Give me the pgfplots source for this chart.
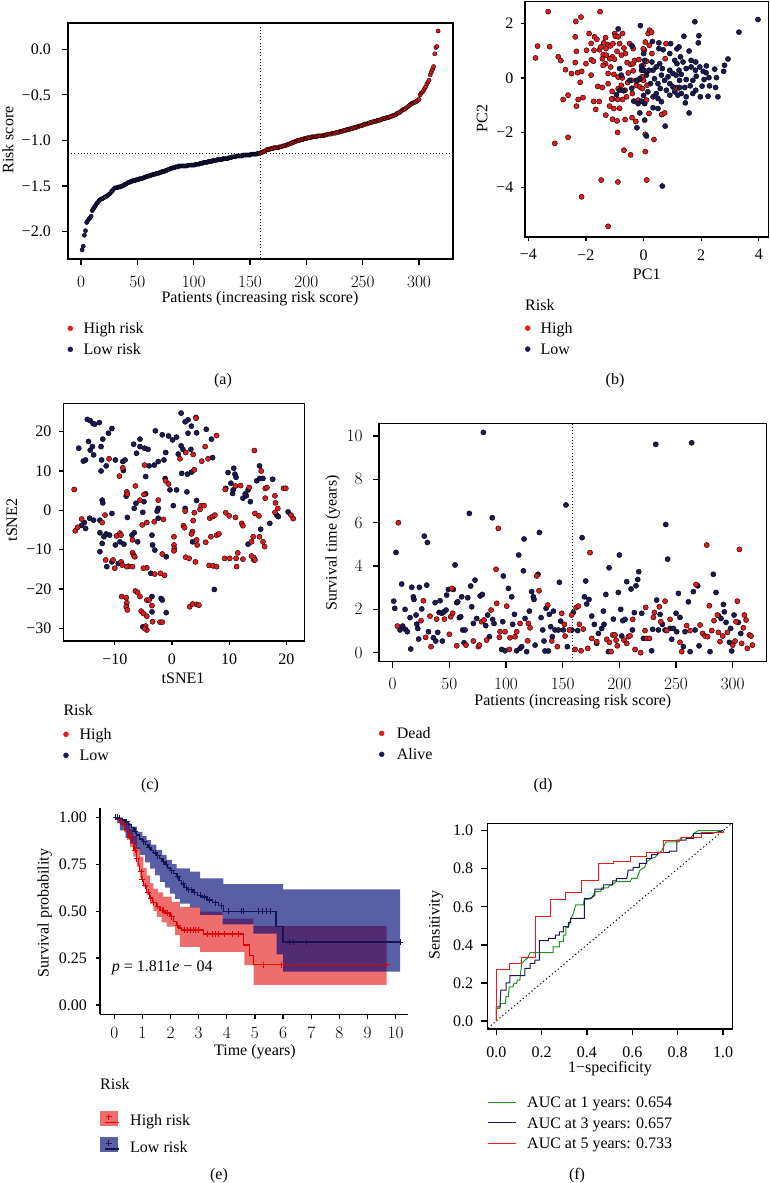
\documentclass[border=0pt]{standalone}
\usepackage{fontspec}
\setmainfont{Liberation Serif}
\usepackage{pgfplots}
\pgfplotsset{compat=1.18}
\definecolor{hr}{RGB}{228,26,28}
\definecolor{lr}{RGB}{26,26,88}
\definecolor{kmred}{RGB}{225,0,0}
\definecolor{kmblue}{RGB}{20,20,85}
\definecolor{bandred}{RGB}{227,13,13}
\definecolor{bandblue}{RGB}{0,9,117}
\definecolor{keyred}{RGB}{238,110,110}
\definecolor{keyblue}{RGB}{89,95,165}
\definecolor{rocg}{RGB}{30,150,30}
\definecolor{rocb}{RGB}{25,25,90}
\definecolor{rocr}{RGB}{240,25,25}
\newcommand{\fs}{\fontsize{16}{19}\selectfont}
\pgfplotsset{
 base/.style={scale only axis, font=\fs,
   tick label style={font=\fs},
   axis line style={line width=1.3pt, black},
   every tick/.style={black, line width=1.2pt},
   tick align=outside, major tick length=4.3pt,
   xtick pos=left, ytick pos=left,
   legend cell align=left,
   legend style={draw=none, fill=none, inner sep=0pt, outer sep=0pt, font=\fs,
     row sep=4.5pt, nodes={inner sep=1pt, text height=11pt, text depth=3.5pt}, anchor=north west},
 },
 rbase/.style={base, major tick length=6pt},
 dot/.style={only marks, mark=*, mark size=2.6pt, mark options={draw=none, fill=#1}},
}
\begin{document}
\begin{tikzpicture}[x=1pt,y=1pt]
\useasboundingbox (0pt,0pt) rectangle (770pt,-1183pt);

% ---------------- (a)
\begin{axis}[rbase, name=pa, at={(68pt,-259pt)}, anchor=south west, width=385pt, height=236pt,
  xmin=-11.54, xmax=330.2, ymin=-2.30, ymax=0.288,
  xtick={0,50,100,150,200,250,300},
  ytick={-2,-1.5,-1,-0.5,0}, yticklabels={−2.0,−1.5,−1.0,−0.5,0.0},
  xticklabel style={yshift=-8pt}, yticklabel style={xshift=-7.7pt},
  xlabel={Patients (increasing risk score)}, ylabel={Risk score},
  xlabel style={at={(axis description cs:0.4987,-0.1695)}, anchor=center},
  ylabel style={at={(axis description cs:-0.156,0.504)}, anchor=center},
  legend style={at={(axis description cs:-0.001,-0.264)}, column sep=9.5pt},
]
\addlegendimage{legend image code/.code={\fill[hr] (0pt,1.2pt) circle (2.5pt);}}
\addlegendentry{High risk}
\addlegendimage{legend image code/.code={\fill[lr] (0pt,1.2pt) circle (2.5pt);}}
\addlegendentry{Low risk}
\addplot[black, line width=0.9pt, dash pattern=on 1pt off 2.2pt, forget plot] coordinates {(159,-2.5) (159,0.5)};
\addplot[black, line width=0.9pt, dash pattern=on 1pt off 2.2pt, forget plot] coordinates {(-20,-1.145) (340,-1.145)};
\addplot[only marks, mark=*, mark size=2.1pt, mark options={draw=none, fill=lr}, forget plot] table[row sep=\\]{
x y\\ 1 -2.20\\ 2 -2.16\\ 3 -2.04\\ 4 -1.99\\ 5 -1.90\\ 6 -1.88\\ 7 -1.86\\ 8 -1.85\\ 9 -1.83\\ 10 -1.77\\
11 -1.75\\ 12 -1.73\\ 13 -1.71\\ 14 -1.69\\ 15 -1.68\\ 16 -1.66\\ 17 -1.65\\ 18 -1.64\\ 19 -1.64\\ 20 -1.63\\
21 -1.62\\ 22 -1.62\\ 23 -1.61\\ 24 -1.60\\ 25 -1.59\\ 26 -1.58\\ 27 -1.56\\ 28 -1.55\\ 29 -1.53\\ 30 -1.52\\
31 -1.52\\ 32 -1.52\\ 33 -1.51\\ 34 -1.51\\ 35 -1.51\\ 36 -1.50\\ 37 -1.50\\ 38 -1.49\\ 39 -1.48\\ 40 -1.48\\
41 -1.47\\ 42 -1.46\\ 43 -1.46\\ 44 -1.45\\ 45 -1.45\\ 46 -1.44\\ 47 -1.44\\ 48 -1.44\\ 49 -1.43\\ 50 -1.43\\
51 -1.43\\ 52 -1.42\\ 53 -1.42\\ 54 -1.42\\ 55 -1.41\\ 56 -1.41\\ 57 -1.40\\ 58 -1.40\\ 59 -1.39\\ 60 -1.39\\
61 -1.39\\ 62 -1.38\\ 63 -1.38\\ 64 -1.37\\ 65 -1.37\\ 66 -1.37\\ 67 -1.36\\ 68 -1.36\\ 69 -1.36\\ 70 -1.35\\
71 -1.35\\ 72 -1.34\\ 73 -1.34\\ 74 -1.34\\ 75 -1.33\\ 76 -1.33\\ 77 -1.32\\ 78 -1.32\\ 79 -1.31\\ 80 -1.31\\
81 -1.30\\ 82 -1.30\\ 83 -1.30\\ 84 -1.29\\ 85 -1.29\\ 86 -1.29\\ 87 -1.28\\ 88 -1.28\\ 89 -1.28\\ 90 -1.28\\
91 -1.28\\ 92 -1.28\\ 93 -1.28\\ 94 -1.28\\ 95 -1.27\\ 96 -1.27\\ 97 -1.27\\ 98 -1.27\\ 99 -1.27\\ 100 -1.27\\
101 -1.27\\ 102 -1.26\\ 103 -1.26\\ 104 -1.26\\ 105 -1.26\\ 106 -1.25\\ 107 -1.25\\ 108 -1.25\\ 109 -1.24\\ 110 -1.24\\
111 -1.24\\ 112 -1.24\\ 113 -1.23\\ 114 -1.23\\ 115 -1.23\\ 116 -1.23\\ 117 -1.22\\ 118 -1.22\\ 119 -1.22\\ 120 -1.22\\
121 -1.21\\ 122 -1.21\\ 123 -1.21\\ 124 -1.21\\ 125 -1.21\\ 126 -1.20\\ 127 -1.20\\ 128 -1.20\\ 129 -1.20\\ 130 -1.20\\
131 -1.19\\ 132 -1.19\\ 133 -1.19\\ 134 -1.18\\ 135 -1.18\\ 136 -1.18\\ 137 -1.18\\ 138 -1.17\\ 139 -1.17\\ 140 -1.17\\
141 -1.17\\ 142 -1.17\\ 143 -1.17\\ 144 -1.16\\ 145 -1.16\\ 146 -1.16\\ 147 -1.16\\ 148 -1.16\\ 149 -1.16\\ 150 -1.16\\
151 -1.15\\ 152 -1.15\\ 153 -1.15\\ 154 -1.15\\ 155 -1.15\\ 156 -1.15\\ 157 -1.14\\ 158 -1.14\\
};
\addplot[only marks, mark=*, mark size=2.1pt, mark options={draw=none, fill=hr}, forget plot] table[row sep=\\]{
x y\\ 159 -1.14\\ 160 -1.13\\ 161 -1.13\\ 162 -1.12\\ 163 -1.12\\ 164 -1.11\\ 165 -1.10\\ 166 -1.10\\ 167 -1.10\\ 168 -1.09\\
169 -1.09\\ 170 -1.09\\ 171 -1.08\\ 172 -1.08\\ 173 -1.08\\ 174 -1.08\\ 175 -1.08\\ 176 -1.07\\ 177 -1.07\\ 178 -1.07\\
179 -1.06\\ 180 -1.06\\ 181 -1.06\\ 182 -1.05\\ 183 -1.05\\ 184 -1.04\\ 185 -1.04\\ 186 -1.03\\ 187 -1.03\\ 188 -1.02\\
189 -1.02\\ 190 -1.01\\ 191 -1.01\\ 192 -1.00\\ 193 -1.00\\ 194 -1.00\\ 195 -0.99\\ 196 -0.99\\ 197 -0.99\\ 198 -0.98\\
199 -0.98\\ 200 -0.98\\ 201 -0.97\\ 202 -0.97\\ 203 -0.97\\ 204 -0.97\\ 205 -0.96\\ 206 -0.96\\ 207 -0.96\\ 208 -0.96\\
209 -0.96\\ 210 -0.95\\ 211 -0.95\\ 212 -0.95\\ 213 -0.95\\ 214 -0.95\\ 215 -0.95\\ 216 -0.94\\ 217 -0.94\\ 218 -0.94\\
219 -0.93\\ 220 -0.93\\ 221 -0.93\\ 222 -0.93\\ 223 -0.92\\ 224 -0.92\\ 225 -0.92\\ 226 -0.92\\ 227 -0.91\\ 228 -0.91\\
229 -0.91\\ 230 -0.90\\ 231 -0.90\\ 232 -0.90\\ 233 -0.89\\ 234 -0.89\\ 235 -0.89\\ 236 -0.88\\ 237 -0.88\\ 238 -0.88\\
239 -0.87\\ 240 -0.87\\ 241 -0.87\\ 242 -0.86\\ 243 -0.86\\ 244 -0.86\\ 245 -0.85\\ 246 -0.85\\ 247 -0.84\\ 248 -0.84\\
249 -0.84\\ 250 -0.83\\ 251 -0.83\\ 252 -0.82\\ 253 -0.82\\ 254 -0.82\\ 255 -0.81\\ 256 -0.81\\ 257 -0.80\\ 258 -0.80\\
259 -0.80\\ 260 -0.79\\ 261 -0.79\\ 262 -0.79\\ 263 -0.78\\ 264 -0.78\\ 265 -0.78\\ 266 -0.77\\ 267 -0.77\\ 268 -0.76\\
269 -0.76\\ 270 -0.76\\ 271 -0.75\\ 272 -0.75\\ 273 -0.75\\ 274 -0.74\\ 275 -0.74\\ 276 -0.73\\ 277 -0.73\\ 278 -0.72\\
279 -0.72\\ 280 -0.71\\ 281 -0.70\\ 282 -0.70\\ 283 -0.69\\ 284 -0.68\\ 285 -0.67\\ 286 -0.66\\ 287 -0.66\\ 288 -0.65\\
289 -0.64\\ 290 -0.63\\ 291 -0.62\\ 292 -0.61\\ 293 -0.60\\ 294 -0.59\\ 295 -0.59\\ 296 -0.58\\ 297 -0.58\\ 298 -0.57\\
299 -0.56\\ 300 -0.55\\ 301 -0.50\\ 302 -0.48\\ 303 -0.47\\ 304 -0.45\\ 305 -0.43\\ 306 -0.41\\ 307 -0.38\\ 308 -0.36\\
309 -0.34\\ 310 -0.28\\ 311 -0.25\\ 312 -0.22\\ 313 -0.19\\ 314 -0.05\\ 315 0.02\\ 316 0.03\\ 317 0.20\\
};
\end{axis}
\draw[line width=1.3pt, black] (pa.south west) rectangle (pa.north east);
\node[font=\fs] at (223pt,-381pt) {(a)};

% ---------------- (b)
\begin{axis}[base, name=pb, at={(525pt,-237pt)}, anchor=south west, width=243.5pt, height=235.5pt,
  xmin=-4.114, xmax=4.336, ymin=-5.81, ymax=2.79,
  xtick={-4,-2,0,2,4}, xticklabels={−4,−2,0,2,4},
  ytick={-4,-2,0,2}, yticklabels={−4,−2,0,2},
  xticklabel style={yshift=-4.6pt}, yticklabel style={xshift=-3.7pt},
  xlabel={PC1}, ylabel={PC2},
  xlabel style={at={(axis description cs:0.5,-0.157)}, anchor=center},
  ylabel style={at={(axis description cs:-0.176,0.504)}, anchor=center},
  legend style={at={(axis description cs:0,-0.357)}, column sep=9.2pt},
]
\addlegendimage{legend image code/.code={\fill[hr] (0pt,1.2pt) circle (2.5pt);}}
\addlegendentry{High}
\addlegendimage{legend image code/.code={\fill[lr] (0pt,1.2pt) circle (2.5pt);}}
\addlegendentry{Low}
\addplot[dot=hr, forget plot] table[row sep=\\]{
x y\\ -3.31 2.42\\ -1.51 2.42\\ -2.35 2.06\\ -2.17 2.22\\ -3.68 1.16\\ -3.75 0.73\\ -3.26 1.14\\ -2.96 0.77\\ -2.87 0.63\\ -2.71 0.30\\
-2.50 0.16\\ -2.37 1.50\\ -2.33 0.97\\ -2.37 0.56\\ -2.29 0.19\\ -2.15 0.24\\ -2.20 -0.16\\ -2.0 0.52\\ -1.89 1.62\\ -1.82 1.26\\
-1.72 1.01\\ -1.81 0.66\\ -1.74 0.61\\ -1.70 1.50\\ -1.53 1.03\\ -1.40 0.85\\ -1.32 1.47\\ -1.30 1.07\\ -1.25 1.22\\ -1.15 1.17\\
-1.06 1.25\\ -1.0 1.62\\ -0.98 1.52\\ -0.92 0.97\\ -0.77 0.83\\ -0.73 1.62\\ -0.83 1.25\\ -1.08 0.77\\ -1.01 0.68\\ -1.32 0.52\\
-1.40 0.46\\ -1.23 0.16\\ -1.03 0.13\\ -0.88 0.03\\ -0.74 0.0\\ -0.53 0.18\\ -0.45 0.49\\ -0.36 0.52\\ -0.36 0.26\\ -0.31 0.64\\
-0.48 1.25\\ -0.36 1.07\\ -0.16 0.67\\ -0.02 0.46\\ 0.03 1.01\\ -0.01 1.06\\ 0.10 0.61\\ 0.16 1.62\\ 0.21 1.74\\ 0.06 1.31\\
0.20 1.19\\ 0.29 0.89\\ 0.78 1.25\\ 0.75 0.70\\ -1.23 -0.21\\ -1.43 -0.35\\ -1.09 -0.49\\ -1.08 -0.77\\ -0.88 -0.39\\ -0.77 -0.27\\
-0.64 -0.45\\ -0.59 -0.69\\ -0.25 -0.27\\ -0.13 -0.33\\ -0.04 -0.39\\ 0.12 -0.27\\ 0.0 -0.09\\ 0.10 -0.81\\ -0.19 -0.81\\ -0.39 -0.57\\
-0.73 -0.79\\ -0.90 -0.79\\ -1.11 -0.77\\ -1.73 -0.86\\ -1.54 -0.86\\ -2.79 -0.79\\ -2.62 -0.63\\ -2.27 -0.79\\ -2.10 -0.72\\ -2.33 -1.03\\
-1.66 -1.15\\ -1.31 -1.36\\ -1.18 -1.03\\ -1.03 -1.12\\ -0.83 -1.11\\ -1.08 -1.51\\ -0.92 -1.57\\ -0.64 -1.52\\ -0.40 -1.45\\ -0.27 -1.59\\
0.19 -1.30\\ 0.63 -1.34\\ 0.73 -1.28\\ -3.08 -2.39\\ -2.62 -2.17\\ -0.90 -1.99\\ 0.06 -2.06\\ 0.36 -2.25\\ -0.68 -2.64\\ -0.45 -2.81\\
0.06 -2.69\\ -1.47 -3.73\\ -0.89 -3.80\\ 0.11 -3.73\\ -2.15 -4.34\\ -1.23 -5.42\\ 1.13 -0.35\\ 1.17 -0.39\\ -0.13 -0.05\\ -0.22 -0.11\\
-0.42 -0.09\\ -0.55 -0.17\\ -1.59 -0.31\\ -0.05 0.04\\ 0.13 0.24\\ -0.57 0.56\\ -0.68 1.09\\ -0.63 0.89\\ 0.28 1.67\\ -1.48 1.13\\
-1.62 1.41\\ -1.38 1.28\\ -0.88 1.50\\ -1.29 0.83\\ -1.14 0.40\\ -1.17 0.70\\ -1.43 0.70\\ -1.82 0.10\\ -1.98 1.01\\
};
\addplot[dot=lr, forget plot] table[row sep=\\]{
x y\\ -0.88 1.79\\ -0.11 1.91\\ 0.31 1.33\\ 0.53 1.28\\ 0.94 1.25\\ 1.16 1.06\\ 1.40 1.52\\ 1.78 2.05\\ 1.92 1.54\\ 1.90 1.28\\
1.23 1.13\\ 1.58 0.98\\ 3.31 1.67\\ 3.97 2.13\\ 2.93 0.69\\ 2.81 0.46\\ 2.78 0.24\\ 2.47 0.32\\ 2.17 0.19\\ 2.07 0.24\\
2.18 0.44\\ 2.27 0.01\\ 2.10 -0.06\\ 2.03 -0.30\\ 2.29 -0.29\\ 2.50 -0.35\\ 2.58 -0.69\\ 2.24 -0.67\\ 1.97 -0.69\\ 1.81 -0.45\\
1.62 -0.29\\ 1.48 -0.06\\ 1.65 0.40\\ 1.81 0.58\\ 1.80 0.28\\ 1.65 0.64\\ 1.37 0.58\\ 1.16 0.52\\ 1.08 0.64\\ 0.91 0.28\\
1.02 0.16\\ 1.23 0.28\\ 1.31 0.13\\ 1.25 -0.09\\ 1.43 -0.35\\ 1.31 -0.57\\ 1.48 -0.69\\ 1.45 -0.91\\ 1.08 -0.51\\ 0.91 -0.63\\
0.79 -0.45\\ 0.91 -0.21\\ 0.73 -0.09\\ 0.62 0.10\\ 0.56 0.52\\ 0.44 0.40\\ 0.33 0.28\\ 0.19 0.28\\ -0.07 0.43\\ -0.07 0.28\\
-0.13 -0.03\\ 0.38 -0.03\\ 0.50 -0.21\\ 0.58 -0.39\\ 0.44 -0.57\\ 0.33 -0.69\\ 0.50 -0.75\\ 0.62 -0.87\\ 0.50 -1.12\\ 0.33 -1.09\\
0.04 -0.94\\ -0.07 -0.85\\ -0.19 -0.94\\ -0.34 -0.85\\ -0.13 -1.28\\ 0.04 -1.54\\ -0.23 -1.82\\ 0.10 -2.12\\ 0.75 -1.76\\ 1.58 -1.28\\
0.65 -3.95\\ -0.69 -0.47\\ -0.83 -0.45\\ -0.94 -0.61\\ -0.41 -0.38\\ -0.48 -0.09\\ -0.25 -0.09\\ -0.77 0.10\\ -0.83 0.34\\ -0.40 1.17\\
0.0 0.89\\ 0.0 0.28\\ 0.10 0.10\\ 0.24 -0.21\\ 0.91 0.89\\ 0.68 1.03\\ 0.53 1.07\\ 1.13 0.10\\ 1.02 -0.33\\ 1.19 -0.63\\
1.71 -0.57\\ 1.83 0.06\\ 1.95 0.40\\ 2.53 0.01\\ 1.28 0.77\\ 1.48 0.34\\ 1.71 -0.09\\ 0.0 -0.64\\ 0.15 -0.51\\ 0.85 0.04\\
0.65 0.34\\ 0.29 0.58\\ 0.04 0.64\\ 1.25 -0.35\\
};
\end{axis}
\draw[line width=1.3pt, black] (pb.south west) rectangle (pb.north east);
\node[font=\fs, anchor=west, inner sep=0pt] at (525pt,-305.5pt) {Risk};
\node[font=\fs] at (615pt,-381pt) {(b)};

% ---------------- (c)
\begin{axis}[base, at={(63.3pt,-641pt)}, anchor=south west, width=241pt, height=237.7pt,
  xmin=-19.0, xmax=23.13, ymin=-33.2, ymax=27.2,
  xtick={-10,0,10,20}, xticklabels={−10,0,10,20},
  ytick={-30,-20,-10,0,10,20}, yticklabels={−30,−20,−10,0,10,20},
  xticklabel style={yshift=-5pt}, yticklabel style={xshift=-4pt},
  xlabel={tSNE1}, ylabel={tSNE2},
  xlabel style={at={(axis description cs:0.497,-0.156)}, anchor=center},
  ylabel style={at={(axis description cs:-0.213,0.509)}, anchor=center},
  legend style={at={(axis description cs:0,-0.363)}, column sep=9.8pt},
]
\addlegendimage{legend image code/.code={\fill[hr] (0pt,1.2pt) circle (2.5pt);}}
\addlegendentry{High}
\addlegendimage{legend image code/.code={\fill[lr] (0pt,1.2pt) circle (2.5pt);}}
\addlegendentry{Low}
\addplot[dot=lr, forget plot] table[row sep=\\]{
x y\\ -16.3 15.8\\ -15.5 12.5\\ -15.1 12.8\\ -14.8 23.1\\ -14.3 22.8\\ -13.8 22.1\\ -13.5 21.9\\ -12.7 22.3\\ -14.6 17.5\\ -14.3 15.3\\
-13.9 16.2\\ -13.7 14.1\\ -12.4 16.2\\ -12.1 18.1\\ -12.3 12.8\\ -12.4 10.0\\ -11.5 11.3\\ -11.1 19.6\\ -10.5 20.8\\ -9.9 12.8\\
-8.6 12.4\\ -8.2 12.8\\ -8.5 10.1\\ -6.7 16.8\\ -6.2 14.5\\ -5.6 18.1\\ -5.6 16.2\\ -4.8 15.8\\ -4.2 15.5\\ -4.6 8.6\\
-4.0 11.3\\ -3.1 11.5\\ -2.9 20.2\\ -2.4 12.4\\ -1.7 19.2\\ -1.4 12.8\\ -1.1 14.7\\ -0.6 18.9\\ 0.1 17.9\\ 0.8 18.6\\
1.6 24.7\\ 2.3 22.5\\ 2.8 23.0\\ 3.4 21.4\\ 4.2 23.6\\ 4.3 19.7\\ 2.8 19.6\\ 1.6 16.4\\ 1.9 15.5\\ 3.3 15.5\\
1.1 14.3\\ 1.7 9.4\\ 2.7 9.2\\ 3.4 9.7\\ -0.35 5.2\\ 0.8 5.2\\ 2.6 4.7\\ 6.0 20.6\\ 6.9 18.1\\ 7.1 13.4\\
-1.2 8.1\\ 0.23 1.2\\ 2.3 0.5\\ 4.3 2.5\\ -12.2 2.6\\ -12.1 1.9\\ -14.4 -2.0\\ -13.7 -2.5\\ -15.3 -3.1\\ -15.1 -4.6\\
-15.8 -3.8\\ -12.6 -2.5\\ -10.5 -0.8\\ -12.6 -5.7\\ -11.5 -6.0\\ -10.9 -6.3\\ -11.9 -6.7\\ -12.2 -8.4\\ -12.6 -10.5\\ -9.9 -8.8\\
-9.1 -8.0\\ -8.4 -8.6\\ -10.5 -13.1\\ -9.4 -13.5\\ -11.4 -14.3\\ -8.0 3.6\\ -7.8 -1.8\\ -7.0 -6.3\\ -6.6 -5.7\\ -6.0 -8.0\\
-6.6 0.5\\ -6.3 1.8\\ -4.9 2.2\\ -4.6 4.2\\ -5.1 -0.5\\ -3.5 -6.3\\ -3.4 -8.8\\ -3.0 -10.1\\ -3.7 -16.0\\ -2.4 -2.0\\
-2.4 0.5\\ -2.6 -0.2\\ -1.0 -11.8\\ 3.6 -8.0\\ -3.5 -21.9\\ -1.9 -22.4\\ -1.7 -22.8\\ -1.0 -26.0\\ -3.5 -25.8\\ -5.1 -29.6\\
7.4 -20.1\\ 9.8 9.6\\ 10.3 6.9\\ 10.8 10.7\\ 11.0 9.2\\ 11.2 8.4\\ 10.6 4.3\\ 10.7 5.2\\ 9.4 5.6\\ 12.4 3.1\\
13.0 3.7\\ 13.3 5.2\\ 13.7 2.2\\ 12.8 4.2\\ 14.8 7.5\\ 15.3 8.1\\ 15.9 8.1\\ 15.3 11.3\\ 17.6 7.9\\ 15.5 -4.8\\
17.1 -3.3\\ 13.3 -8.6\\ 18.3 -1.2\\ 18.6 -1.6\\ 20.3 -0.4\\
};
\addplot[dot=hr, forget plot] table[row sep=\\]{
x y\\ -17.1 5.3\\ -16.9 -5.2\\ -16.5 -4.3\\ -15.8 -2.2\\ -11.7 -1.2\\ -12.2 -3.1\\ -11.0 13.1\\ -9.2 8.7\\ -8.6 10.8\\ -7.9 4.7\\
-7.8 4.1\\ -6.4 6.2\\ -5.6 2.6\\ -4.8 11.5\\ -4.9 4.0\\ -5.2 -3.7\\ -4.4 -3.1\\ -3.1 -2.9\\ -2.4 2.6\\ -1.5 -2.3\\
-1.1 7.5\\ -0.6 6.7\\ -9.7 -6.5\\ -9.1 -5.8\\ -8.9 -6.3\\ -6.9 -7.5\\ -6.9 -10.8\\ -6.7 -11.4\\ -6.5 -11.8\\ -11.6 -12.6\\
-10.3 -12.6\\ -10.0 -14.7\\ -8.9 -13.1\\ -8.7 -13.9\\ -7.6 -14.2\\ -6.9 -14.3\\ -4.4 -14.6\\ -3.0 -16.2\\ -2.0 -16.0\\ -1.3 -16.5\\
-1.7 -11.1\\ 0.35 -6.7\\ 0.35 -8.8\\ 0.4 -9.7\\ 0.35 -10.3\\ 2.0 -3.9\\ 2.2 -4.4\\ 2.3 -0.2\\ 2.4 -11.9\\ 3.0 -12.2\\
4.1 -13.1\\ 3.6 -5.4\\ 3.4 -6.0\\ 3.7 -2.6\\ 3.9 -0.6\\ 4.3 -7.5\\ 4.4 -8.8\\ 4.9 0.25\\ 5.1 1.2\\ 5.6 1.2\\
5.9 -8.1\\ 6.6 -2.0\\ 6.8 -6.7\\ 7.1 -1.6\\ 7.5 -1.2\\ 7.8 -6.3\\ 8.2 -6.0\\ 6.5 -14.0\\ 7.2 -14.1\\ 7.8 -14.3\\
9.2 -12.2\\ 10.1 -12.2\\ 11.2 -12.2\\ 11.5 -10.8\\ 11.3 -14.3\\ 12.4 -12.4\\ 12.2 -3.3\\ 12.4 -3.9\\ 9.4 -0.6\\ 10.0 -1.4\\
11.1 -1.8\\ 9.3 5.3\\ 11.1 6.2\\ 12.0 6.3\\ 13.5 5.8\\ 14.5 -0.8\\ 15.2 -1.4\\ 14.4 15.2\\ 15.6 10.0\\ 16.3 5.6\\
16.6 5.8\\ 16.3 3.1\\ 18.0 3.7\\ 18.1 1.9\\ 18.5 0.5\\ 18.0 -0.5\\ 19.5 5.6\\ 19.9 5.6\\ 20.8 -1.2\\ 21.2 -2.1\\
13.9 -8.0\\ 14.2 -6.7\\ 15.3 -6.7\\ 15.9 -8.0\\ 16.2 -9.2\\ 14.3 -12.0\\ 14.3 -12.6\\ 14.5 -12.6\\ 13.9 -11.6\\ 7.8 19.0\\
5.8 16.2\\ 5.2 12.5\\ 6.3 13.1\\ 3.7 14.2\\ 1.4 13.1\\ 2.4 14.7\\ 3.9 10.3\\ 4.2 23.4\\ -8.8 -21.9\\ -8.0 -22.2\\
-7.9 -23.5\\ -8.0 -24.5\\ -7.8 -25.3\\ -6.4 -20.5\\ -6.0 -20.9\\ -5.6 -21.9\\ -5.4 -25.6\\ -5.0 -26.2\\ -4.4 -22.8\\ -4.0 -22.8\\
-3.5 -24.2\\ -4.4 -26.9\\ -3.4 -28.3\\ -2.1 -28.4\\ -1.7 -28.4\\ -4.6 -29.4\\ -4.4 -30.4\\ -4.8 -30.0\\ 3.1 -24.5\\ 3.6 -23.8\\
4.3 -23.9\\ 4.7 -24.1\\ -7.9 -14.3\\ -5.0 -14.7\\
};
\end{axis}
\node[font=\fs, anchor=west, inner sep=0pt] at (63.3pt,-710.5pt) {Risk};
\node[font=\fs] at (150pt,-786pt) {(c)};

% ---------------- (d)
\begin{axis}[rbase, at={(379pt,-661.7pt)}, anchor=south west, width=387.7pt, height=238.4pt,
  xmin=-12.09, xmax=330.0, ymin=-0.415, ymax=10.59,
  xtick={0,50,100,150,200,250,300}, ytick={0,2,4,6,8,10},
  xticklabel style={yshift=-7.6pt}, yticklabel style={xshift=-7pt},
  xlabel={Patients (increasing risk score)}, ylabel={Survival time (years)},
  xlabel style={at={(axis description cs:0.5,-0.169)}, anchor=center},
  ylabel style={at={(axis description cs:-0.119,0.498)}, anchor=center},
  legend style={at={(axis description cs:0,-0.271)}, column sep=11.5pt},
]
\addlegendimage{legend image code/.code={\fill[hr] (0pt,1.2pt) circle (2.5pt);}}
\addlegendentry{Dead}
\addlegendimage{legend image code/.code={\fill[lr] (0pt,1.2pt) circle (2.5pt);}}
\addlegendentry{Alive}
\addplot[black, line width=0.9pt, dash pattern=on 1pt off 2.2pt, forget plot] coordinates {(159,-1) (159,11)};
\addplot[dot=lr, forget plot] table[row sep=\\]{
x y\\ 0.9 2.38\\ 1.8 2.05\\ 2.9 4.63\\ 7.9 3.17\\ 6.5 1.05\\ 10.9 2.0\\ 8.8 1.23\\ 11.2 1.08\\ 12.9 0.97\\ 15.3 1.62\\
15.9 0.17\\ 16.8 3.02\\ 18.2 2.58\\ 18.8 2.46\\ 20.6 1.74\\ 21.2 1.32\\ 22.1 1.12\\ 22.9 0.63\\ 23.5 3.02\\ 25.6 2.02\\
27.9 5.38\\ 30.0 3.12\\ 30.6 5.09\\ 31.5 0.97\\ 35.9 0.69\\ 37.4 2.31\\ 38.0 0.54\\ 39.7 0.94\\ 40.9 1.86\\ 41.8 2.40\\
43.2 1.82\\ 43.8 0.54\\ 45.3 1.89\\ 47.1 1.97\\ 47.6 2.66\\ 49.1 2.92\\ 53.5 2.92\\ 55.0 4.05\\ 56.5 2.31\\ 57.4 2.35\\
58.8 1.62\\ 60.0 1.66\\ 60.9 2.58\\ 61.8 1.05\\ 63.8 1.05\\ 62.9 0.46\\ 66.2 2.54\\ 67.6 6.43\\ 68.8 3.08\\ 69.7 2.12\\
71.2 1.35\\ 72.6 3.35\\ 74.1 1.58\\ 77.1 2.62\\ 79.1 2.69\\ 80.0 10.17\\ 82.1 1.25\\ 83.8 1.74\\ 85.3 0.74\\ 87.9 6.23\\
88.2 1.54\\ 89.4 1.35\\ 97.6 3.54\\ 97.1 1.43\\ 96.2 0.15\\ 99.1 0.09\\ 102.1 2.97\\ 105.0 2.58\\ 105.9 1.31\\ 107.4 1.77\\
109.4 0.09\\ 111.2 4.51\\ 112.4 0.2\\ 113.8 0.28\\ 115.3 3.78\\ 115.9 5.25\\ 116.8 1.58\\ 118.2 0.05\\ 120.6 1.92\\ 122.6 2.82\\
124.1 2.58\\ 124.7 2.46\\ 125.6 0.35\\ 128.2 3.62\\ 129.4 5.55\\ 130.9 1.62\\ 132.4 1.05\\ 133.5 0.54\\ 134.4 0.08\\ 137.4 0.08\\
135.3 2.05\\ 138.2 1.77\\ 139.4 1.2\\ 140.9 0.74\\ 141.8 1.92\\ 143.2 1.05\\ 146.2 1.05\\ 147.1 3.25\\ 148.2 1.46\\ 150.6 1.05\\
152.9 6.82\\ 154.1 0.28\\ 158.2 1.05\\ 159.4 1.86\\ 163.2 1.02\\ 167.1 5.31\\ 169.1 2.58\\ 170.3 3.31\\ 171.2 2.25\\ 173.2 2.46\\
175.6 1.69\\ 177.9 1.31\\ 180.0 0.43\\ 181.5 0.89\\ 184.4 1.12\\ 185.9 1.92\\ 186.5 1.31\\ 188.0 2.69\\ 190.9 3.92\\ 190.3 0.05\\
194.7 1.55\\ 199.1 2.78\\ 200.0 4.51\\ 201.2 2.0\\ 202.1 0.77\\ 203.0 1.48\\ 205.0 1.54\\ 206.5 3.28\\ 210.3 2.94\\ 211.5 1.05\\
213.2 1.85\\ 214.7 3.09\\ 216.2 3.38\\ 217.1 3.74\\ 219.7 1.82\\ 221.2 0.66\\ 228.5 0.09\\ 229.4 1.08\\ 232.1 9.62\\ 232.9 2.43\\
234.4 1.05\\ 235.9 1.77\\ 237.9 1.31\\ 240.3 1.05\\ 240.9 5.92\\ 242.6 4.32\\ 244.7 1.12\\ 246.2 0.62\\ 247.6 1.12\\ 250.0 1.82\\
250.6 0.97\\ 252.1 2.74\\ 253.5 1.63\\ 256.5 0.28\\ 257.9 0.97\\ 260.9 2.35\\ 262.4 0.05\\ 263.8 9.69\\ 265.3 2.82\\ 266.8 1.05\\
269.1 3.09\\ 270.3 0.32\\ 280.0 0.05\\ 282.9 3.62\\ 285.3 2.78\\ 287.4 1.71\\ 289.7 1.58\\ 291.8 2.23\\ 292.6 1.89\\ 294.1 1.40\\
297.1 0.48\\ 298.2 1.12\\ 299.1 0.08\\ 301.2 1.74\\ 305.0 1.4\\ 307.1 0.89\\
};
\addplot[dot=hr, forget plot] table[row sep=\\]{
x y\\ 4.1 1.23\\ 5.0 6.0\\ 25.0 1.48\\ 27.1 2.4\\ 29.1 0.71\\ 32.9 1.69\\ 33.8 0.28\\ 38.8 1.55\\ 45.6 1.55\\ 50.0 0.85\\
51.2 1.66\\ 52.1 2.97\\ 52.9 1.82\\ 56.5 0.32\\ 64.7 0.35\\ 71.2 0.54\\ 75.6 0.28\\ 76.5 0.35\\ 78.5 1.43\\ 80.6 1.51\\
82.9 0.58\\ 86.8 1.97\\ 91.2 3.85\\ 91.8 2.28\\ 93.2 5.74\\ 94.1 0.71\\ 94.7 0.97\\ 99.1 0.97\\ 100.6 2.15\\ 102.9 0.15\\
103.5 0.69\\ 107.9 0.74\\ 109.4 0.97\\ 112.4 1.35\\ 119.1 0.55\\ 119.7 1.35\\ 121.2 1.15\\ 127.1 3.54\\ 129.1 2.86\\ 136.8 2.2\\
140.3 0.54\\ 145.3 0.28\\ 149.1 1.82\\ 151.5 1.31\\ 152.1 0.77\\ 155.9 1.05\\ 157.9 1.74\\ 160.9 0.15\\ 161.8 2.08\\ 163.8 2.15\\
164.7 1.31\\ 166.2 0.09\\ 168.2 1.09\\ 172.1 0.2\\ 174.1 4.62\\ 175.6 0.66\\ 180.0 0.51\\ 188.8 0.62\\ 191.2 0.48\\ 192.6 0.05\\
194.1 0.82\\ 196.2 0.82\\ 197.1 0.58\\ 198.2 0.32\\ 204.1 0.58\\ 206.5 0.43\\ 207.9 0.74\\ 209.4 0.78\\ 211.8 1.54\\ 213.8 0.15\\
218.8 0.0\\ 222.6 1.02\\ 223.2 2.09\\ 224.1 0.66\\ 226.5 0.66\\ 230.0 1.63\\ 230.9 1.86\\ 235.3 2.12\\ 236.5 1.43\\ 240.3 2.38\\
241.8 1.02\\ 244.7 1.54\\ 253.5 0.48\\ 255.0 0.05\\ 259.4 1.25\\ 262.4 1.02\\ 267.6 3.15\\ 271.2 1.28\\ 273.5 0.89\\ 275.6 0.77\\
277.1 4.97\\ 277.9 0.74\\ 279.4 2.17\\ 281.5 1.02\\ 283.5 1.48\\ 286.5 1.74\\ 287.4 0.94\\ 288.8 0.51\\ 291.2 0.77\\ 295.3 0.94\\
300.0 0.35\\ 302.1 0.54\\ 302.9 1.43\\ 304.1 2.38\\ 305.9 4.77\\ 307.9 0.43\\ 309.4 1.15\\ 310.3 1.74\\ 311.8 1.51\\ 312.9 0.2\\
314.7 0.82\\ 316.2 0.77\\ 317.4 0.35\\
};
\end{axis}
\node[font=\fs] at (543pt,-786pt) {(d)};

% ---------------- (e)
\begin{axis}[base, at={(100pt,-1014.3pt)}, anchor=south west, width=308pt, height=206.4pt,
  axis x line*=bottom, axis y line*=left,
  xmin=-0.508, xmax=10.44, ymin=-0.0495, ymax=1.05,
  xtick={0,1,2,3,4,5,6,7,8,9,10},
  ytick={0,0.25,0.5,0.75,1}, yticklabels={0.00,0.25,0.50,0.75,1.00},
  xticklabel style={yshift=-5pt}, yticklabel style={xshift=-5.4pt},
  xlabel={Time (years)}, ylabel={Survival probability},
  xlabel style={at={(axis description cs:0.503,-0.183)}, anchor=center},
  ylabel style={at={(axis description cs:-0.179,0.491)}, anchor=center},
  legend style={at={(axis description cs:0,-0.467)}, column sep=9.8pt, row sep=7.5pt},
  every outer x axis line/.append style={-}, every outer y axis line/.append style={-},
]
\addlegendimage{legend image code/.code={
  \fill[keyred] (0pt,-3.3pt) rectangle (16.7pt,10.7pt);
  \draw[kmred, line width=1.4pt] (5pt,-0.6pt) -- (18.5pt,-0.6pt);
  \draw[kmred, line width=1pt] (5.3pt,5.1pt) -- (11.3pt,5.1pt) (8.3pt,2.1pt) -- (8.3pt,8.1pt);}}
\addlegendentry{High risk}
\addlegendimage{legend image code/.code={
  \fill[keyblue] (0pt,-3.3pt) rectangle (16.7pt,10.7pt);
  \draw[kmblue, line width=1.4pt] (5pt,-0.6pt) -- (18.5pt,-0.6pt);
  \draw[kmblue, line width=1pt] (5.3pt,5.1pt) -- (11.3pt,5.1pt) (8.3pt,2.1pt) -- (8.3pt,8.1pt);}}
\addlegendentry{Low risk}
% red CI band (upper steps, then lower steps reversed)
\addplot[fill=bandred, fill opacity=0.6, draw=none, forget plot] coordinates {
(0,1) (0.2,1) (0.2,0.99) (0.4,0.99) (0.4,0.97) (0.55,0.97) (0.55,0.94) (0.68,0.94) (0.68,0.9) (0.8,0.9) (0.8,0.84) (0.91,0.84)
(0.91,0.79) (1.03,0.79) (1.03,0.73) (1.15,0.73) (1.15,0.69) (1.27,0.69) (1.27,0.65) (1.39,0.65) (1.39,0.62) (1.55,0.62)
(1.55,0.60) (1.74,0.60) (1.74,0.577) (2.04,0.577) (2.04,0.55) (2.33,0.55) (2.33,0.523) (3.05,0.523) (3.05,0.497) (3.85,0.497)
(3.85,0.46) (4.94,0.46) (4.94,0.42) (9.68,0.42)
(9.68,0.107) (4.95,0.107) (4.95,0.213) (4.62,0.213) (4.62,0.283) (3.05,0.283) (3.05,0.31) (2.33,0.31) (2.33,0.373) (2.16,0.373)
(2.16,0.417) (1.86,0.417) (1.86,0.44) (1.68,0.44) (1.68,0.47) (1.51,0.47) (1.51,0.5) (1.39,0.5) (1.39,0.54) (1.27,0.54)
(1.27,0.585) (1.15,0.585) (1.15,0.63) (1.03,0.63) (1.03,0.68) (0.91,0.68) (0.91,0.737) (0.8,0.737) (0.8,0.79) (0.68,0.79)
(0.68,0.843) (0.56,0.843) (0.56,0.88) (0.45,0.88) (0.45,0.92) (0.35,0.92) (0.35,0.96) (0.2,0.96) (0.2,1) (0,1)} -- cycle;
% blue CI band
\addplot[fill=bandblue, fill opacity=0.65, draw=none, forget plot] coordinates {
(0,1) (0.3,1) (0.3,0.99) (0.44,0.99) (0.44,0.968) (0.6,0.968) (0.6,0.95) (0.8,0.95) (0.8,0.923) (1.0,0.923) (1.0,0.9) (1.15,0.9)
(1.15,0.879) (1.3,0.879) (1.3,0.855) (1.5,0.855) (1.5,0.826) (1.7,0.826) (1.7,0.8) (1.86,0.8) (1.86,0.773) (2.05,0.773)
(2.05,0.75) (2.22,0.75) (2.22,0.728) (2.69,0.728) (2.69,0.71) (3.05,0.71) (3.05,0.675) (3.88,0.675) (3.88,0.644) (6.0,0.644)
(6.0,0.616) (10.16,0.616)
(10.16,0.178) (6.0,0.178) (6.0,0.27) (5.77,0.27) (5.77,0.38) (4.94,0.38) (4.94,0.43) (3.85,0.43) (3.85,0.48) (3.05,0.48)
(3.05,0.52) (2.69,0.52) (2.69,0.54) (2.33,0.54) (2.33,0.565) (2.15,0.565) (2.15,0.594) (1.98,0.594) (1.98,0.625) (1.8,0.625)
(1.8,0.656) (1.62,0.656) (1.62,0.69) (1.45,0.69) (1.45,0.727) (1.27,0.727) (1.27,0.76) (1.1,0.76) (1.1,0.798) (0.91,0.798)
(0.91,0.83) (0.75,0.83) (0.75,0.86) (0.56,0.86) (0.56,0.89) (0.4,0.89) (0.4,0.93) (0.2,0.93) (0.2,0.97) (0.1,0.97) (0.1,1) (0,1)} -- cycle;
% curves
\addplot[const plot, kmred, line width=1.3pt, forget plot] coordinates {
(0,1.0) (0.1,0.99) (0.2,0.975) (0.3,0.955) (0.4,0.93) (0.5,0.9) (0.6,0.865) (0.7,0.825) (0.8,0.78) (0.85,0.745)
(0.9,0.71) (0.97,0.67) (1.05,0.635) (1.15,0.6) (1.25,0.57) (1.35,0.545) (1.5,0.525) (1.62,0.505) (1.8,0.49) (1.98,0.47)
(2.1,0.445) (2.22,0.425) (2.3,0.41) (2.4,0.40) (3.16,0.378) (4.6,0.32) (4.8,0.265) (4.94,0.215) (9.68,0.215)};
\addplot[const plot, kmblue, line width=1.3pt, forget plot] coordinates {
(0,1.0) (0.15,0.995) (0.3,0.985) (0.4,0.975) (0.5,0.962) (0.6,0.945) (0.7,0.925) (0.8,0.905) (0.9,0.885) (1.0,0.87)
(1.1,0.855) (1.2,0.84) (1.3,0.825) (1.4,0.81) (1.5,0.795) (1.6,0.78) (1.7,0.765) (1.8,0.75) (1.9,0.73) (2.0,0.715)
(2.1,0.70) (2.2,0.685) (2.3,0.665) (2.4,0.645) (2.5,0.625) (2.6,0.615) (2.8,0.60) (2.95,0.585) (3.1,0.575) (3.3,0.56)
(3.5,0.545) (3.7,0.53) (3.87,0.50) (5.75,0.42) (6.0,0.335) (10.2,0.335)};
% censor marks
\addplot[only marks, mark=+, mark size=3pt, kmred, line width=1pt, forget plot] coordinates {
(0.55,0.9) (0.75,0.825) (0.8,0.78) (0.95,0.71) (1.0,0.67) (1.1,0.635) (1.2,0.6) (1.3,0.57) (1.4,0.545) (1.55,0.525)
(1.7,0.505) (1.75,0.505) (1.9,0.49) (2.05,0.47) (2.25,0.425) (2.5,0.40) (2.6,0.40) (2.7,0.40) (2.8,0.40) (2.9,0.40)
(3.0,0.40) (3.3,0.378) (3.5,0.378) (3.6,0.378) (3.7,0.378) (3.9,0.378) (4.2,0.378) (4.4,0.378) (5.3,0.215) (5.95,0.215) (9.68,0.215)};
\addplot[only marks, mark=+, mark size=3pt, kmblue, line width=1pt, forget plot] coordinates {
(0.05,1.0) (0.1,1.0) (0.2,0.995) (0.45,0.975) (0.75,0.925) (1.05,0.87) (1.25,0.84) (1.45,0.81) (1.55,0.795) (1.75,0.765)
(1.85,0.75) (2.05,0.715) (2.25,0.685) (2.45,0.645) (2.55,0.625) (2.65,0.615) (2.75,0.615) (2.85,0.60) (3.05,0.585) (3.2,0.575)
(3.4,0.56) (3.6,0.545) (3.8,0.53) (4.05,0.5) (4.53,0.5) (4.61,0.5) (5.12,0.5) (5.27,0.5) (5.42,0.5) (5.56,0.5)
(6.21,0.335) (6.36,0.335) (6.84,0.335) (10.16,0.335)};
\node[font=\fs, anchor=west, inner sep=0pt] at (axis cs:-0.09,0.197) {\textit{p} = 1.811\textit{e} − 04};
\end{axis}
\node[font=\fs, anchor=west, inner sep=0pt] at (100pt,-1084.5pt) {Risk};
\node[font=\fs] at (219pt,-1176pt) {(e)};

% ---------------- (f)
\begin{axis}[rbase, at={(487.3pt,-1029pt)}, anchor=south west, width=245pt, height=205.7pt,
  xmin=-0.0397, xmax=1.041, ymin=-0.042, ymax=1.039,
  xtick={0,0.2,0.4,0.6,0.8,1}, xticklabels={0.0,0.2,0.4,0.6,0.8,1.0},
  ytick={0,0.2,0.4,0.6,0.8,1}, yticklabels={0.0,0.2,0.4,0.6,0.8,1.0},
  xticklabel style={yshift=-8pt}, yticklabel style={xshift=-4.7pt},
  xlabel={1−specificity}, ylabel={Sensitivity},
  xlabel style={at={(axis description cs:0.501,-0.194)}, anchor=center},
  ylabel style={at={(axis description cs:-0.209,0.506)}, anchor=center},
  legend style={at={(axis description cs:0,-0.324)}, column sep=9.7pt, row sep=4pt},
]
\addlegendimage{legend image code/.code={\draw[rocg, line width=1.2pt] (0pt,1.7pt) -- (28pt,1.7pt);}}
\addlegendentry{AUC at 1 years: 0.654}
\addlegendimage{legend image code/.code={\draw[rocb, line width=1.2pt] (0pt,1.7pt) -- (28pt,1.7pt);}}
\addlegendentry{AUC at 3 years: 0.657}
\addlegendimage{legend image code/.code={\draw[rocr, line width=1.2pt] (0pt,1.7pt) -- (28pt,1.7pt);}}
\addlegendentry{AUC at 5 years: 0.733}
\addplot[black, line width=1pt, dash pattern=on 1.2pt off 2.6pt, forget plot] coordinates {(-0.05,-0.05) (1.05,1.05)};
\addplot[rocg, line width=1pt, forget plot] coordinates {
(0,0) (0,0.067) (0.016,0.067) (0.02,0.093) (0.04,0.093) (0.043,0.128) (0.053,0.128) (0.057,0.18) (0.074,0.18) (0.078,0.198)
(0.09,0.198) (0.093,0.215) (0.104,0.215) (0.107,0.25) (0.112,0.303) (0.126,0.32) (0.137,0.33) (0.149,0.359) (0.251,0.359) (0.251,0.39)
(0.278,0.39) (0.278,0.417) (0.296,0.417) (0.296,0.452) (0.307,0.452) (0.307,0.492) (0.318,0.492) (0.328,0.534) (0.34,0.566) (0.35,0.61)
(0.384,0.61) (0.388,0.636) (0.42,0.644) (0.435,0.68) (0.46,0.68) (0.465,0.7) (0.493,0.7) (0.5,0.714) (0.51,0.714) (0.528,0.732)
(0.59,0.732) (0.597,0.75) (0.62,0.75) (0.634,0.793) (0.655,0.81) (0.663,0.837) (0.685,0.855) (0.7,0.86) (0.715,0.88) (0.73,0.895)
(0.737,0.916) (0.75,0.942) (0.807,0.942) (0.813,0.963) (0.86,0.966) (0.872,0.986) (0.89,1.0) (1,1)};
\addplot[rocb, line width=1pt, forget plot] coordinates {
(0,0) (0,0.075) (0.016,0.075) (0.02,0.163) (0.043,0.163) (0.043,0.2) (0.06,0.2) (0.06,0.238) (0.126,0.238) (0.126,0.277)
(0.149,0.277) (0.149,0.303) (0.17,0.303) (0.17,0.32) (0.19,0.32) (0.19,0.422) (0.23,0.422) (0.23,0.434) (0.26,0.434) (0.26,0.452)
(0.278,0.452) (0.278,0.469) (0.296,0.469) (0.296,0.496) (0.318,0.496) (0.318,0.517) (0.328,0.517) (0.328,0.539) (0.388,0.539) (0.388,0.644)
(0.413,0.644) (0.435,0.66) (0.435,0.693) (0.472,0.693) (0.472,0.716) (0.513,0.716) (0.513,0.737) (0.53,0.737) (0.53,0.748) (0.575,0.748)
(0.582,0.793) (0.604,0.793) (0.604,0.807) (0.631,0.807) (0.631,0.828) (0.663,0.828) (0.663,0.855) (0.685,0.855) (0.685,0.875) (0.71,0.875)
(0.71,0.886) (0.763,0.886) (0.763,0.893) (0.796,0.893) (0.796,0.95) (0.837,0.95) (0.837,0.96) (0.87,0.96) (0.87,0.986) (0.95,0.986) (1,1)};
\addplot[rocr, line width=1pt, forget plot] coordinates {
(0,0) (0,0.27) (0.056,0.27) (0.056,0.30) (0.11,0.30) (0.11,0.333) (0.175,0.333) (0.175,0.548) (0.24,0.548) (0.24,0.64)
(0.307,0.64) (0.307,0.676) (0.376,0.676) (0.376,0.74) (0.45,0.74) (0.45,0.83) (0.516,0.83) (0.516,0.84) (0.59,0.84) (0.59,0.863)
(0.663,0.863) (0.663,0.886) (0.737,0.886) (0.737,0.95) (0.818,0.95) (0.818,0.963) (0.906,0.963) (0.906,0.99) (1,0.99) (1,1)};
\end{axis}
\node[font=\fs] at (577pt,-1176pt) {(f)};
\end{tikzpicture}
\end{document}
